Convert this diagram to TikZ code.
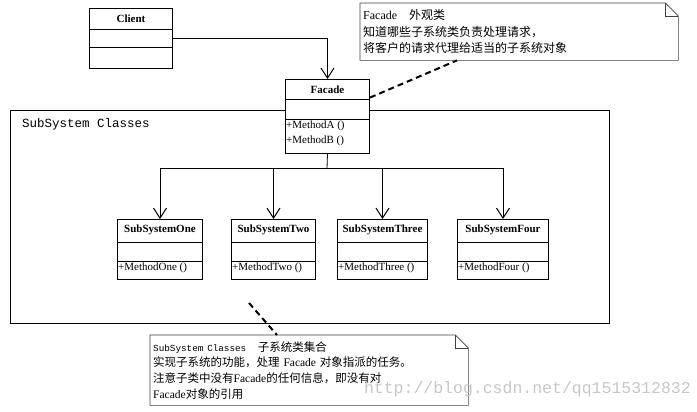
\documentclass[tikz,border=0pt]{standalone}
\usepackage{fontspec}
\setmainfont{Liberation Serif}
\newfontfamily\cjk{Noto Sans CJK SC}
\setmonofont{Liberation Mono}
\usetikzlibrary{arrows.meta}
\usetikzlibrary{positioning}
\usetikzlibrary{calc}

\tikzset{
  classbox/.style={draw, line width=1pt, fill=white, anchor=north west, inner sep=0pt},
  classname/.style={font=\fontsize{11}{12}\selectfont\bfseries, inner sep=0pt},
  method/.style={font=\fontsize{11}{15}\selectfont, anchor=north west, inner sep=0pt, align=left},
  divider/.style={line width=1pt},
  bus/.style={line width=0.8pt},
  assoc/.style={line width=0.8pt, -{Straight Barb[length=10pt,width=13pt,line width=1pt]}},
  notebox/.style={draw=black!75, line width=0.6pt},
  notetext/.style={anchor=north west, minimum width=318pt, inner xsep=3pt, inner ysep=0pt,
    align=left, text width=312pt},
  notelink/.style={line width=2pt, dash pattern=on 6pt off 4pt},
}

\begin{document}
\begin{tikzpicture}[x=1pt, y=1pt]
  \useasboundingbox (0,0) rectangle (697,-412);

  % subsystem frame
  \node[draw, line width=0.8pt, anchor=north west, minimum width=599pt, minimum height=213pt, inner sep=0pt] (frame) at (10,-110) {};
  \node[anchor=west, inner sep=0pt, font=\ttfamily\fontsize{12.5}{14}\selectfont] (framelabel) at (22,-124) {SubSystem Classes};

  % client
  \node[classbox, minimum width=83pt, minimum height=60pt] (client) at (89,-8) {};
  \node[classname] (clientname) at ($(client.north)+(0,-11)$) {Client};
  \draw[divider] ([yshift=-22]client.north west) -- ([yshift=-22]client.north east);
  \draw[divider] ([yshift=-40]client.north west) -- ([yshift=-40]client.north east);

  % facade
  \node[classbox, minimum width=84pt, minimum height=74pt] (facade) at (285,-79) {};
  \node[classname] (facadename) at ($(facade.north)+(0,-11)$) {Facade};
  \draw[divider] ([yshift=-21]facade.north west) -- ([yshift=-21]facade.north east);
  \draw[divider] ([yshift=-41]facade.north west) -- ([yshift=-41]facade.north east);
  \node[method] (facadeops) at ([xshift=1pt,yshift=-42]facade.north west) {+MethodA ()\\+MethodB ()};

  % subsystems
  \foreach \n/\x/\w/\t/\m in {one/117/85/SubSystemOne/MethodOne, two/231/84/SubSystemTwo/MethodTwo,
      three/337/90/SubSystemThree/MethodThree, four/457/91/SubSystemFour/MethodFour}{
    \node[classbox, minimum width=\w pt, minimum height=60pt] (\n) at (\x,-219) {};
    \node[classname] (\n name) at ($(\n.north)+(0,-11)$) {\t};
    \draw[divider] ([yshift=-23]\n.north west) -- ([yshift=-23]\n.north east);
    \draw[divider] ([yshift=-42]\n.north west) -- ([yshift=-42]\n.north east);
    \node[method] (\n ops) at ([xshift=1pt,yshift=-44]\n.north west) {+\m\ ()};
  }

  % connectors
  \draw[assoc] (client.east) -| (facade.north);
  \coordinate (bus) at (327,-168);
  \draw[bus] (facade.south) -- (bus);
  \draw[bus] (bus -| one.north) -- (bus -| four.north);
  \foreach \n in {one,two,three,four}
    \draw[assoc] (bus -| \n.north) -- (\n.north);

  % notes
  \node[notetext, minimum height=57pt, font=\fontsize{12}{16.5}\selectfont] (facadenote) at (360,-3)
    {Facade\quad{\cjk 外观类}\\{\cjk 知道哪些子系统类负责处理请求，}\\{\cjk 将客户的请求代理给适当的子系统对象}};
  \draw[notebox] (facadenote.north west) -- ([xshift=-13]facadenote.north east) -- ([yshift=-13]facadenote.north east)
    -- (facadenote.south east) -- (facadenote.south west) -- cycle;
  \draw[notebox] ([xshift=-13]facadenote.north east) |- ([yshift=-13]facadenote.north east);
  \draw[notelink] (facade.24) -- ([xshift=97]facadenote.south west);

  \node[notetext, minimum height=70pt, font=\fontsize{11.5}{15.7}\selectfont] (subnote) at (150,-335)
    {{\ttfamily\fontsize{9.3}{15.7}\selectfont SubSystem Classes}\quad{\cjk 子系统类集合}\\
     {\cjk 实现子系统的功能，处理} Facade {\cjk 对象指派的任务。}\\
     {\cjk 注意子类中没有}Facade{\cjk 的任何信息，即没有对}\\
     Facade{\cjk 对象的引用}};
  \draw[notebox] (subnote.north west) -- ([xshift=-13]subnote.north east) -- ([yshift=-13]subnote.north east)
    -- (subnote.south east) -- (subnote.south west) -- cycle;
  \draw[notebox] ([xshift=-13]subnote.north east) |- ([yshift=-13]subnote.north east);
  \coordinate (subref) at (249,-303);
  \draw[notelink] (subref) -- ([xshift=127]subnote.north west);

  % watermark
  \node[anchor=east, inner sep=0pt, text=black!22, font=\ttfamily\fontsize{16.5}{18}\selectfont] (mark) at (691,-389) {http://blog.csdn.net/qq1515312832};
\end{tikzpicture}
\end{document}
